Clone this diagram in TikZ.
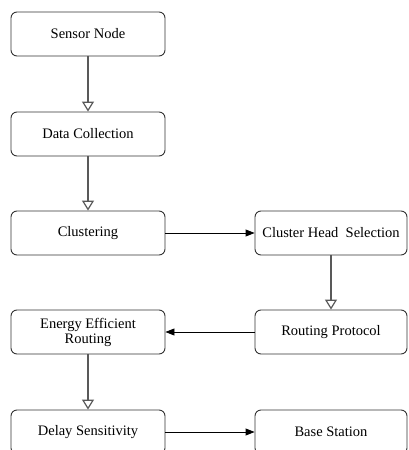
\documentclass[tikz,border=0pt]{standalone}
\usepackage{fontspec}
\setmainfont{Liberation Serif}
\usetikzlibrary{arrows.meta}
\begin{document}
\begin{tikzpicture}[x=1pt,y=-1pt,
  stepbox/.style={draw=black!80,line width=0.9pt,rounded corners=6pt,minimum width=154pt,minimum height=44pt,font=\fontsize{14.5}{15}\selectfont,align=center,inner sep=1pt},
  down/.style={draw=black!65,line width=1.2pt,-{Triangle[open,length=10pt,width=12pt,fill=white]}},
  side/.style={draw=black,line width=0.9pt,-{Triangle[length=9pt,width=7pt]}}]
\useasboundingbox (0,0) rectangle (408,450);
\clip (0,0) rectangle (408,450);

\node[stepbox] (sensor) at (88,34) {Sensor Node};
\node[stepbox] (data) at (88,134) {Data Collection};
\node[stepbox] (clust) at (88,233) {Clustering};
\node[stepbox,minimum width=152pt] (head) at (331,233) {Cluster Head\ \ Selection};
\node[stepbox,minimum width=152pt] (route) at (331,332) {Routing Protocol};
\node[stepbox] (energy) at (88,332) {Energy Efficient\\Routing};
\node[stepbox] (delay) at (88,432) {Delay Sensitivity};
\node[stepbox,minimum width=152pt] (base) at (331,432) {Base Station};

\draw[down] (sensor)--(data);
\draw[down] (data)--(clust);
\draw[side] (clust)--(head);
\draw[down] (head)--(route);
\draw[side] (route)--(energy);
\draw[down] (energy)--(delay);
\draw[side] (delay)--(base);
\end{tikzpicture}
\end{document}
